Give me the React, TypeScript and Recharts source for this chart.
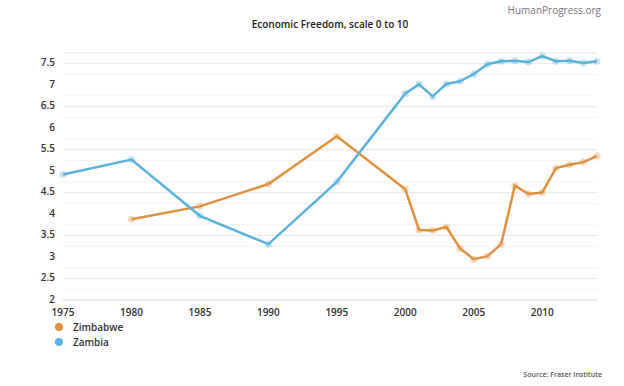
import React from 'react';
import { LineChart, Line, XAxis, YAxis, CartesianGrid, ReferenceLine } from 'recharts';

const ZIMBABWE_COLOR = '#e0913f';
const ZAMBIA_COLOR = '#5ab3da';

const zimbabweYears = [1980, 1985, 1990, 1995, 2000, 2001, 2002, 2003, 2004, 2005, 2006, 2007, 2008, 2009, 2010, 2011, 2012, 2013, 2014];
const zimbabweValues = [3.88, 4.18, 4.7, 5.81, 4.58, 3.63, 3.62, 3.7, 3.2, 2.95, 3.02, 3.3, 4.66, 4.47, 4.5, 5.07, 5.15, 5.21, 5.35];

const zambiaYears = [1975, 1980, 1985, 1990, 1995, 2000, 2001, 2002, 2003, 2004, 2005, 2006, 2007, 2008, 2009, 2010, 2011, 2012, 2013, 2014];
const zambiaValues = [4.92, 5.27, 3.96, 3.3, 4.75, 6.81, 7.02, 6.74, 7.03, 7.09, 7.26, 7.49, 7.56, 7.57, 7.54, 7.68, 7.56, 7.57, 7.52, 7.56];

const xTicks = [1975, 1980, 1985, 1990, 1995, 2000, 2005, 2010];
const yTicks = [2, 2.5, 3, 3.5, 4, 4.5, 5, 5.5, 6, 6.5, 7, 7.5];
const yMinorTicks = [2.25, 2.75, 3.25, 3.75, 4.25, 4.75, 5.25, 5.75, 6.25, 6.75, 7.25];

const zimbabweData = zimbabweYears.map((year, i) => ({ year, value: zimbabweValues[i] }));
const zambiaData = zambiaYears.map((year, i) => ({ year, value: zambiaValues[i] }));

const FONT = '"Open Sans", "Noto Sans", sans-serif';

const legendItems = [
    { name: 'Zimbabwe', color: ZIMBABWE_COLOR },
    { name: 'Zambia', color: ZAMBIA_COLOR },
];

export default function App() {
    return (
        <div style={{ position: 'absolute', left: 0, top: 0, width: 624, height: 386, background: '#fff', fontFamily: FONT }}>
            {/* header texts */}
            <div style={{ position: 'absolute', right: 23, top: 3, fontSize: 10, color: '#777' }}>HumanProgress.org</div>
            <div style={{ position: 'absolute', left: 230, width: 200, top: 17, textAlign: 'center', fontSize: 10, fontWeight: 600, color: '#222' }}>
                Economic Freedom, scale 0 to 10
            </div>
            <div style={{ position: 'absolute', right: 22, top: 370, fontSize: 7, fontWeight: 600, color: '#555' }}>Source: Fraser Institute</div>

            {/* legend */}
            <div style={{ position: 'absolute', left: 55, top: 319 }}>
                {legendItems.map((item) => (
                    <div key={item.name} style={{ display: 'flex', alignItems: 'center', height: 15 }}>
                        <span style={{ width: 8, height: 8, borderRadius: 4, background: item.color, display: 'inline-block', marginRight: 10 }} />
                        <span style={{ fontSize: 10, fontWeight: 600, color: '#333' }}>{item.name}</span>
                    </div>
                ))}
            </div>

            <LineChart width={624} height={386} margin={{ top: 53, right: 27, bottom: 66, left: 23 }}>
                <CartesianGrid vertical={false} stroke="#e8e8e8" />
                {yMinorTicks.map((v) => (
                    <ReferenceLine key={v} y={v} stroke="#f3f3f3" />
                ))}
                <XAxis
                    dataKey="year"
                    type="number"
                    domain={[1975, 2014]}
                    ticks={xTicks}
                    allowDuplicatedCategory={false}
                    height={20}
                    axisLine={{ stroke: '#e3e3e3' }}
                    tickLine={false}
                    tickMargin={3}
                    tick={{ fontSize: 10, fontWeight: 600, fill: '#333', fontFamily: FONT }}
                />
                <YAxis
                    type="number"
                    domain={[2, 7.75]}
                    ticks={yTicks}
                    width={40}
                    axisLine={false}
                    tickLine={false}
                    tick={{ fontSize: 10, fontWeight: 600, fill: '#333', fontFamily: FONT, dy: -1 }}
                />
                <Line
                    data={zimbabweData}
                    dataKey="value"
                    name="Zimbabwe"
                    stroke={ZIMBABWE_COLOR}
                    strokeWidth={2.5}
                    dot={{ r: 3.5, fill: ZIMBABWE_COLOR, stroke: 'none', fillOpacity: 0.35 }}
                    isAnimationActive={false}
                />
                <Line
                    data={zambiaData}
                    dataKey="value"
                    name="Zambia"
                    stroke={ZAMBIA_COLOR}
                    strokeWidth={2.5}
                    dot={{ r: 3.5, fill: ZAMBIA_COLOR, stroke: 'none', fillOpacity: 0.35 }}
                    isAnimationActive={false}
                />
            </LineChart>
        </div>
    );
}
